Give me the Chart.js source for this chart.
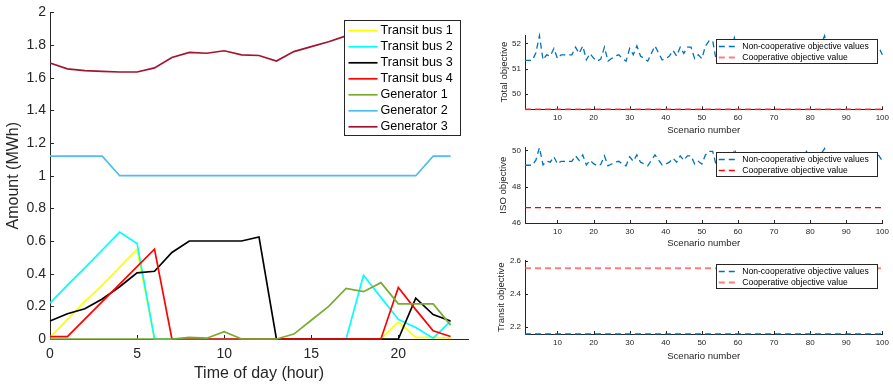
<!DOCTYPE html>
<html>
<head>
<meta charset="utf-8">
<script src="https://cdn.jsdelivr.net/npm/chart.js@4.4.1/dist/chart.umd.min.js"></script>
<style>
  body { margin: 0; background: #fff; width: 893px; height: 384px; overflow: hidden; position: relative; }
  canvas { position: absolute; }
</style>
</head>
<body>
<canvas id="main" width="480" height="384" style="left:0;top:0"></canvas>
<canvas id="total" width="413" height="140" style="left:480px;top:0"></canvas>
<canvas id="iso" width="413" height="124" style="left:480px;top:130px"></canvas>
<canvas id="transit" width="413" height="126" style="left:480px;top:240px"></canvas>
<script>
// ---- left chart: hourly amounts (MWh)
const hours = [0, 1, 2, 3, 4, 5, 6, 7, 8, 9, 10, 11, 12, 13, 14, 15, 16, 17, 18, 19, 20, 21, 22, 23];
const bus1 = [0.01, 0.12, 0.23, 0.33, 0.44, 0.55, 0, 0, 0, 0, 0, 0, 0, 0, 0, 0, 0, 0, 0, 0, 0.105, 0.01, 0.01, 0.005];
const bus2 = [0.22, 0.33, 0.435, 0.545, 0.655, 0.585, 0, 0, 0, 0, 0, 0, 0, 0, 0, 0, 0, 0, 0.39, 0.255, 0.12, 0.07, 0.005, 0.11];
const bus3 = [0.11, 0.155, 0.185, 0.245, 0.32, 0.405, 0.415, 0.53, 0.6, 0.6, 0.6, 0.6, 0.625, 0, 0, 0, 0, 0, 0, 0, 0, 0.25, 0.15, 0.11];
const bus4 = [0.015, 0.015, 0.122, 0.229, 0.336, 0.443, 0.55, 0, 0, 0, 0, 0, 0, 0, 0, 0, 0, 0, 0, 0, 0.315, 0.18, 0.05, 0.015];
const gen1 = [0, 0, 0, 0, 0, 0, 0, 0, 0.01, 0.005, 0.045, 0, 0, 0, 0.03, 0.115, 0.2, 0.31, 0.29, 0.345, 0.215, 0.215, 0.215, 0.085];
const gen2 = [1.12, 1.12, 1.12, 1.12, 1, 1, 1, 1, 1, 1, 1, 1, 1, 1, 1, 1, 1, 1, 1, 1, 1, 1, 1.12, 1.12];
const gen3 = [1.69, 1.654, 1.643, 1.639, 1.635, 1.635, 1.66, 1.724, 1.755, 1.75, 1.765, 1.74, 1.736, 1.702, 1.76, 1.79, 1.82, 1.856, 1.88, 1.9, 1.91, 1.89, 1.85, 1.8];
const mainXTicks = [0, 5, 10, 15, 20];
const mainYTicks = [0, 0.2, 0.4, 0.6, 0.8, 1, 1.2, 1.4, 1.6, 1.8, 2];

// ---- right charts: objective per scenario
const scenarios = Array.from({ length: 100 }, (_, i) => i + 1);
const totalNonCoop = [
  51.33, 51.33, 51.33, 51.62, 52.30, 51.35, 51.55, 51.50, 51.80, 51.40,
  51.55, 51.55, 51.55, 51.55, 51.85, 51.60, 51.90, 51.35, 51.60, 51.42,
  51.30, 51.38, 51.85, 51.30, 51.40, 51.50, 51.55, 51.40, 51.30, 51.80,
  51.55, 51.90, 51.50, 51.40, 51.30, 51.60, 51.90, 51.62, 51.35, 51.40,
  51.50, 51.72, 51.50, 51.85, 51.60, 51.85, 51.85, 51.40, 51.55, 51.40,
  51.90, 52.10, 52.10, 51.30, 51.75, 51.60, 51.85, 51.50, 52.22, 51.70,
  51.45, 51.80, 51.55, 51.35, 51.90, 51.60, 51.45, 51.75, 51.50, 51.85,
  51.40, 51.65, 51.90, 51.55, 51.35, 51.70, 51.50, 51.80, 52.22, 51.60,
  51.45, 51.75, 51.95, 52.30, 51.55, 51.40, 51.80, 51.60, 51.35, 51.70,
  51.55, 51.85, 51.45, 51.65, 51.90, 51.50, 51.70, 51.90, 51.85, 51.55
];
const isoNonCoop = [
  49.18, 49.18, 49.18, 49.46, 50.15, 49.20, 49.40, 49.35, 49.65, 49.25,
  49.40, 49.40, 49.40, 49.40, 49.70, 49.45, 49.75, 49.20, 49.45, 49.27,
  49.15, 49.23, 49.70, 49.15, 49.25, 49.35, 49.40, 49.25, 49.15, 49.65,
  49.40, 49.75, 49.35, 49.25, 49.15, 49.45, 49.75, 49.47, 49.20, 49.25,
  49.35, 49.57, 49.35, 49.70, 49.45, 49.70, 49.70, 49.25, 49.40, 49.25,
  49.75, 49.95, 49.95, 49.15, 49.60, 49.45, 49.70, 49.35, 50.07, 49.55,
  49.30, 49.65, 49.40, 49.20, 49.75, 49.45, 49.30, 49.60, 49.35, 49.70,
  49.25, 49.50, 49.75, 49.40, 49.20, 49.55, 49.35, 49.65, 49.95, 49.45,
  49.30, 49.60, 49.80, 50.10, 49.40, 49.25, 49.65, 49.45, 49.20, 49.55,
  49.40, 49.70, 49.30, 49.50, 49.75, 49.35, 49.55, 49.75, 49.72, 49.42
];
const transitNonCoop = 2.156;
const totalCoop = 49.40;
const isoCoop = 46.85;
const transitCoop = 2.556;
const scenarioTicks = [10, 20, 30, 40, 50, 60, 70, 80, 90, 100];
const totalTicks = [50, 51, 52];
const isoTicks = [46, 48, 50];
const transitTicks = [2.2, 2.4, 2.6];

const FONT = "'Liberation Sans', Arial, Helvetica, sans-serif";
const AXIS = '#262626';

// MATLAB style ticks pointing into the plot
const inwardTicks = {
  id: 'inwardTicks',
  beforeDatasetsDraw(chart, args, opts) {
    const { ctx, chartArea } = chart;
    const xs = chart.scales.x, ys = chart.scales.y;
    ctx.save();
    ctx.strokeStyle = AXIS;
    ctx.lineWidth = 1;
    ctx.beginPath();
    xs.ticks.forEach(t => {
      const px = Math.round(xs.getPixelForValue(t.value)) + 0.5;
      ctx.moveTo(px, chartArea.bottom);
      ctx.lineTo(px, chartArea.bottom - opts.length);
    });
    ys.ticks.forEach(t => {
      const py = Math.round(ys.getPixelForValue(t.value)) + 0.5;
      ctx.moveTo(chartArea.left, py);
      ctx.lineTo(chartArea.left + opts.length, py);
    });
    ctx.stroke();
    ctx.restore();
  }
};

// boxed legend inside the axes, top right
const boxLegend = {
  id: 'boxLegend',
  afterDraw(chart, args, o) {
    const { ctx, chartArea } = chart;
    const x0 = Math.round(chartArea.right - o.right - o.width) + 0.5;
    const y0 = Math.round(chartArea.top + o.top) + 0.5;
    ctx.save();
    ctx.fillStyle = '#fff';
    ctx.fillRect(x0, y0, o.width, o.height);
    ctx.strokeStyle = AXIS;
    ctx.lineWidth = 1;
    ctx.strokeRect(x0, y0, o.width, o.height);
    ctx.font = o.font;
    ctx.textBaseline = 'middle';
    ctx.textAlign = 'left';
    chart.data.datasets.forEach((ds, i) => {
      const y = y0 + o.first + i * o.row;
      ctx.beginPath();
      ctx.setLineDash(ds.borderDash || []);
      ctx.strokeStyle = ds.borderColor;
      ctx.lineWidth = ds.borderWidth;
      ctx.moveTo(x0 + o.lineFrom, y);
      ctx.lineTo(x0 + o.lineTo, y);
      ctx.stroke();
      ctx.setLineDash([]);
      ctx.fillStyle = '#000';
      ctx.fillText(ds.label, x0 + o.textX, y);
    });
    ctx.restore();
  }
};

const pts = (xs, ys) => xs.map((x, i) => ({ x, y: ys[i] }));
const setTicks = list => scale => { scale.ticks = list.map(v => ({ value: v })); };
const fmt = v => String(+v.toFixed(2));

// ---------------- main chart
const mainSeries = [
  ['Transit bus 1', '#FFFF00', bus1],
  ['Transit bus 2', '#00FFFF', bus2],
  ['Transit bus 3', '#000000', bus3],
  ['Transit bus 4', '#FF0000', bus4],
  ['Generator 1', '#77AC30', gen1],
  ['Generator 2', '#4DBEEE', gen2],
  ['Generator 3', '#A2142F', gen3]
];

new Chart(document.getElementById('main'), {
  type: 'line',
  data: {
    datasets: mainSeries.map(([label, color, vals], i) => ({
      label,
      data: pts(hours, vals),
      borderColor: color,
      borderWidth: 1.7,
      pointRadius: 0,
      tension: 0,
      clip: false,
      order: mainSeries.length - i
    }))
  },
  options: {
    responsive: false,
    animation: false,
    devicePixelRatio: 1,
    layout: { padding: { left: 0, right: 12, top: 9.5, bottom: 0 } },
    plugins: {
      legend: { display: false },
      tooltip: { enabled: false },
      inwardTicks: { length: 4 },
      boxLegend: { right: 8, top: 7.5, width: 116, height: 115, first: 10.3, row: 16, lineFrom: 4, lineTo: 33, textX: 36, font: '12.6px ' + FONT }
    },
    scales: {
      x: {
        type: 'linear', min: 0, max: 24,
        afterBuildTicks: setTicks(mainXTicks),
        afterFit: s => { s.height = 45; },
        grid: { display: false, drawTicks: false },
        border: { display: true, color: AXIS, width: 1 },
        ticks: { color: AXIS, font: { family: FONT, size: 14 }, padding: 7, autoSkip: false, maxRotation: 0, callback: fmt },
        title: { display: true, text: 'Time of day (hour)', color: AXIS, font: { family: FONT, size: 16 }, padding: { top: 0, bottom: 0.4 } }
      },
      y: {
        type: 'linear', min: 0, max: 2,
        afterBuildTicks: setTicks(mainYTicks),
        afterFit: s => { s.width = 50; },
        grid: { display: false, drawTicks: false },
        border: { display: true, color: AXIS, width: 1 },
        ticks: { color: AXIS, font: { family: FONT, size: 14 }, padding: 4, autoSkip: false, callback: fmt },
        title: { display: true, text: 'Amount (MWh)', color: AXIS, font: { family: FONT, size: 16 }, padding: { top: 4.4, bottom: 0 } }
      }
    }
  },
  plugins: [inwardTicks, boxLegend]
});

// ---------------- scenario charts
function scenarioChart(id, cfg) {
  const blue = {
    label: 'Non-cooperative objective values',
    data: cfg.nonCoop,
    borderColor: '#0072BD', borderWidth: 1.3, borderDash: [6, 4],
    pointRadius: 0, tension: 0, clip: false
  };
  const red = {
    label: 'Cooperative objective value',
    data: cfg.coop,
    borderColor: cfg.redColor, borderWidth: cfg.redWidth, borderDash: [6, 4],
    pointRadius: 0, tension: 0, clip: false
  };
  new Chart(document.getElementById(id), {
    type: 'line',
    data: { datasets: [blue, red] },
    options: {
      responsive: false,
      animation: false,
      devicePixelRatio: 1,
      layout: { padding: { left: 0, right: 10.3, top: cfg.padTop, bottom: 0 } },
      plugins: {
        legend: { display: false },
        tooltip: { enabled: false },
        inwardTicks: { length: 3 },
        boxLegend: { right: 5, top: cfg.legendTop, width: 161, height: 24, first: 7, row: 11, lineFrom: 2.3, lineTo: 21.3, textX: 25.7, font: '8.6px ' + FONT }
      },
      scales: {
        x: {
          type: 'linear', min: 1, max: 100,
          afterBuildTicks: setTicks(scenarioTicks),
          afterFit: s => { s.height = cfg.xAxisH; },
          grid: { display: false, drawTicks: false },
          border: { display: true, color: AXIS, width: 1 },
          ticks: { color: AXIS, font: { family: FONT, size: 8 }, padding: 4, autoSkip: false, maxRotation: 0 },
          title: { display: true, text: 'Scenario number', color: AXIS, font: { family: FONT, size: 9.6 }, padding: { top: 0, bottom: cfg.xTitlePad } }
        },
        y: {
          type: 'linear', min: cfg.min, max: cfg.max,
          afterBuildTicks: setTicks(cfg.ticks),
          afterFit: s => { s.width = 45; },
          grid: { display: false, drawTicks: false },
          border: { display: true, color: AXIS, width: 1 },
          ticks: { color: AXIS, font: { family: FONT, size: 8 }, padding: 4, autoSkip: false, callback: fmt },
          title: { display: true, text: cfg.title, color: AXIS, font: { family: FONT, size: 9.6 }, padding: { top: cfg.yTitlePad, bottom: 0 } }
        }
      }
    },
    plugins: [inwardTicks, boxLegend]
  });
}

const first = scenarios[0], last = scenarios[scenarios.length - 1];

scenarioChart('total', {
  title: 'Total objective',
  nonCoop: pts(scenarios, totalNonCoop),
  coop: [{ x: first, y: totalCoop }, { x: last, y: totalCoop }],
  min: 49.40, max: 52.33, ticks: totalTicks,
  padTop: 35, xAxisH: 30.7, xTitlePad: 4.2, yTitlePad: 18.2, legendTop: 4,
  redColor: 'rgba(255,70,70,0.7)', redWidth: 2
});

scenarioChart('iso', {
  title: 'ISO objective',
  nonCoop: pts(scenarios, isoNonCoop),
  coop: [{ x: first, y: isoCoop }, { x: last, y: isoCoop }],
  min: 46, max: 50.17, ticks: isoTicks,
  padTop: 17.3, xAxisH: 31, xTitlePad: 4.5, yTitlePad: 18, legendTop: 4.7,
  redColor: '#FF0000', redWidth: 1.3
});

scenarioChart('transit', {
  title: 'Transit objective',
  nonCoop: [{ x: first, y: transitNonCoop }, { x: last, y: transitNonCoop }],
  coop: [{ x: first, y: transitCoop }, { x: last, y: transitCoop }],
  min: 2.155, max: 2.604, ticks: transitTicks,
  padTop: 20.5, xAxisH: 32, xTitlePad: 3.5, yTitlePad: 15.5, legendTop: 3.5,
  redColor: 'rgba(255,70,70,0.7)', redWidth: 2
});
</script>
</body>
</html>
